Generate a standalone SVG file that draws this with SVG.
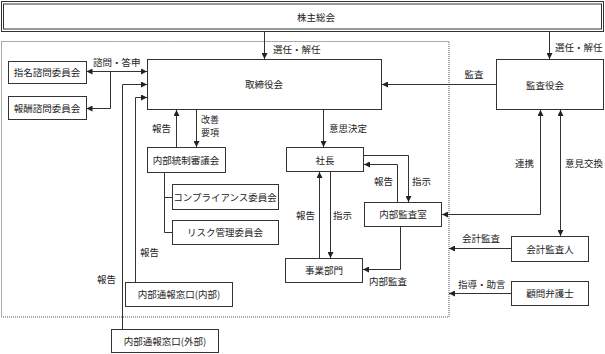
<svg xmlns="http://www.w3.org/2000/svg" width="605" height="354" viewBox="0 0 605 354">
<defs>
<marker id="ah" viewBox="0 0 6 6" refX="6" refY="3" markerWidth="6" markerHeight="6" markerUnits="userSpaceOnUse" orient="auto-start-reverse">
<path d="M0,0 L6,3 L0,6 z" fill="#222"/>
</marker>
</defs>
<style>
.box{fill:#fff;stroke:#333;stroke-width:1}
.t{font-family:"Noto Sans CJK JP","Noto Sans",sans-serif;font-size:9.5px;fill:#222;dominant-baseline:central}
.c{text-anchor:middle}
.ln{fill:none;stroke:#333;stroke-width:1}
.ar{marker-end:url(#ah)}
.ar2{marker-start:url(#ah);marker-end:url(#ah)}
.dot{fill:none;stroke:#555;stroke-width:1;stroke-dasharray:1,1}
</style>
<rect width="605" height="354" fill="#fff"/>
<rect class="dot" x="1.5" y="41.5" width="447.5" height="275.5"/>

<g id="connectors">
<path class="ln ar" d="M264.5,32 V59"/>
<path class="ln ar" d="M549.5,32 V59"/>
<path class="ln ar2" d="M86.5,71.5 H147"/>
<path class="ln ar" d="M110.5,71.5 V108.5 H86.5"/>
<path class="ln ar" d="M122.5,329 V84.5 H147"/>
<path class="ln ar" d="M135.5,282 V97.5 H147"/>
<path class="ln ar" d="M176.5,147 V110"/>
<path class="ln ar" d="M196.5,110 V147"/>
<path class="ln" d="M164.5,172 V232.5 H172.5 M164.5,197.5 H172.5"/>
<path class="ln ar" d="M323.5,110 V147"/>
<path class="ln ar" d="M496,84.5 H382"/>
<path class="ln ar" d="M363.5,155.5 H408.5 V202"/>
<path class="ln ar" d="M397.5,202 V164.5 H364"/>
<path class="ln ar" d="M319.5,258 V172"/>
<path class="ln ar" d="M330.5,172 V258"/>
<path class="ln ar" d="M400.5,227 V269.5 H363"/>
<path class="ln ar2" d="M540.5,110 V214.5 H442"/>
<path class="ln ar2" d="M560.5,110 V236"/>
<path class="ln ar" d="M511,248.5 H449"/>
<path class="ln ar" d="M511,293.5 H449"/>
</g>

<g id="labels">
<text class="t" x="273" y="49">選任・解任</text>
<text class="t" x="555" y="47">選任・解任</text>
<text class="t" x="93" y="62">諮問・答申</text>
<text class="t c" x="474" y="74">監査</text>
<text class="t" x="152" y="128">報告</text>
<text class="t" x="201" y="119.5" style="font-size:9px">改善</text>
<text class="t" x="201" y="132.6" style="font-size:9px">要項</text>
<text class="t" x="329" y="128">意思決定</text>
<text class="t" x="374" y="181">報告</text>
<text class="t" x="412" y="181">指示</text>
<text class="t" x="515" y="163">連携</text>
<text class="t" x="565" y="163">意見交換</text>
<text class="t" x="296" y="215">報告</text>
<text class="t" x="333" y="215">指示</text>
<text class="t" x="462" y="238">会計監査</text>
<text class="t" x="369" y="281">内部監査</text>
<text class="t" x="458" y="284">指導・助言</text>
<text class="t" x="140" y="252">報告</text>
<text class="t" x="97" y="279">報告</text>
</g>

<g id="kabunushi">
<rect class="box" x="1.5" y="1.5" width="602" height="30"/>
<rect class="box" x="3.5" y="4" width="598" height="25"/>
<text class="t c" x="316" y="17">株主総会</text>
</g>
<g id="torishimariyaku">
<rect class="box" x="147.5" y="59.5" width="234" height="50"/>
<text class="t c" x="264" y="84">取締役会</text>
</g>
<g id="kansayaku">
<rect class="box" x="496.5" y="59.5" width="107" height="50"/>
<text class="t c" x="545" y="85">監査役会</text>
</g>
<g id="shimei">
<rect class="box" x="8.5" y="61.5" width="78" height="22"/>
<text class="t c" x="47" y="72">指名諮問委員会</text>
</g>
<g id="hoshu">
<rect class="box" x="8.5" y="96.5" width="78" height="23"/>
<text class="t c" x="47" y="108">報酬諮問委員会</text>
</g>
<g id="naibutosei">
<rect class="box" x="147.5" y="147.5" width="78" height="25"/>
<text class="t c" x="186" y="160">内部統制審議会</text>
</g>
<g id="compliance">
<rect class="box" x="172.5" y="184.5" width="106" height="25"/>
<text class="t c" x="225" y="197">コンプライアンス委員会</text>
</g>
<g id="risk">
<rect class="box" x="172.5" y="220.5" width="106" height="24"/>
<text class="t c" x="225" y="232">リスク管理委員会</text>
</g>
<g id="shacho">
<rect class="box" x="286.5" y="147.5" width="77" height="24"/>
<text class="t c" x="325" y="160">社長</text>
</g>
<g id="naibukansa">
<rect class="box" x="364.5" y="202.5" width="77" height="24"/>
<text class="t c" x="403" y="214">内部監査室</text>
</g>
<g id="jigyo">
<rect class="box" x="285.5" y="258.5" width="77" height="24"/>
<text class="t c" x="324" y="270">事業部門</text>
</g>
<g id="tsuho-naibu">
<rect class="box" x="125.5" y="282.5" width="107" height="24"/>
<text class="t c" x="179" y="294">内部通報窓口(内部)</text>
</g>
<g id="tsuho-gaibu">
<rect class="box" x="111.5" y="329.5" width="107" height="23"/>
<text class="t c" x="165" y="341">内部通報窓口(外部)</text>
</g>
<g id="kaikei">
<rect class="box" x="511.5" y="236.5" width="77" height="25"/>
<text class="t c" x="550" y="249">会計監査人</text>
</g>
<g id="komon">
<rect class="box" x="511.5" y="281.5" width="77" height="24"/>
<text class="t c" x="550" y="293">顧問弁護士</text>
</g>
</svg>
